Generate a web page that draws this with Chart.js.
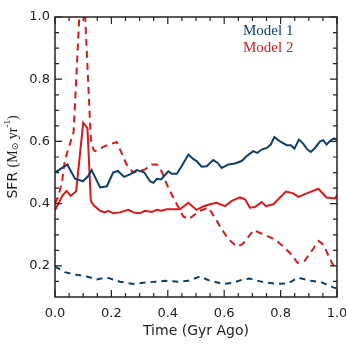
<!DOCTYPE html>
<html>
<head>
<meta charset="utf-8">
<script src="https://cdn.jsdelivr.net/npm/chart.js@4/dist/chart.umd.min.js"></script>
<style>
  html, body { margin: 0; padding: 0; background: #fff; }
  #wrap { width: 346px; height: 346px; }
</style>
</head>
<body>
<div id="wrap"><canvas id="c" width="346" height="346"></canvas></div>
<script>
// values
const xTicks = [0, 0.2, 0.4, 0.6, 0.8, 1.0]
const yTicks = [0.2, 0.4, 0.6, 0.8, 1.0]
const seriesNames = ["Model 1", "Model 2"]

const m1SolidX = [0,0.044,0.053,0.071,0.099,0.117,0.13,0.16,0.184,0.206,0.223,0.245,0.266,0.29,0.316,0.337,0.349,0.361,0.376,0.402,0.414,0.432,0.449,0.473,0.49,0.502,0.52,0.538,0.561,0.577,0.591,0.615,0.638,0.662,0.68,0.703,0.717,0.733,0.751,0.765,0.778,0.798,0.822,0.836,0.849,0.865,0.88,0.893,0.907,0.922,0.94,0.951,0.963,0.978,0.99,1.0]
const m1SolidY = [0.50,0.526,0.51,0.48,0.472,0.488,0.508,0.452,0.456,0.50,0.505,0.486,0.494,0.508,0.501,0.472,0.467,0.48,0.478,0.504,0.496,0.496,0.52,0.558,0.544,0.537,0.519,0.52,0.54,0.531,0.515,0.526,0.529,0.537,0.553,0.569,0.563,0.574,0.579,0.59,0.614,0.60,0.588,0.588,0.577,0.606,0.593,0.576,0.566,0.579,0.60,0.604,0.59,0.604,0.61,0.605]

const m1DashX = [0,0.035,0.071,0.112,0.148,0.183,0.23,0.278,0.313,0.355,0.39,0.437,0.473,0.514,0.55,0.597,0.627,0.662,0.69,0.742,0.79,0.827,0.862,0.908,0.946,0.987,1.0]
const m1DashY = [0.198,0.18,0.172,0.166,0.156,0.163,0.149,0.142,0.146,0.149,0.152,0.149,0.152,0.166,0.152,0.142,0.145,0.155,0.159,0.147,0.142,0.144,0.162,0.152,0.147,0.131,0.127]

const m2SolidX = [0,0.027,0.041,0.056,0.075,0.1,0.115,0.127,0.137,0.16,0.177,0.189,0.207,0.23,0.26,0.278,0.301,0.319,0.343,0.361,0.378,0.396,0.443,0.473,0.502,0.526,0.55,0.573,0.603,0.627,0.656,0.674,0.691,0.709,0.733,0.748,0.774,0.798,0.819,0.845,0.863,0.893,0.934,0.963,0.993,1.0]
const m2SolidY = [0.379,0.427,0.441,0.425,0.44,0.66,0.643,0.409,0.395,0.377,0.372,0.377,0.369,0.372,0.38,0.372,0.369,0.377,0.373,0.38,0.377,0.382,0.382,0.403,0.38,0.391,0.398,0.403,0.392,0.409,0.42,0.414,0.387,0.389,0.405,0.392,0.398,0.42,0.439,0.433,0.422,0.433,0.448,0.42,0.417,0.427]

const m2DashX = [0,0.012,0.025,0.035,0.066,0.097,0.127,0.136,0.142,0.177,0.219,0.254,0.278,0.319,0.343,0.361,0.378,0.402,0.432,0.455,0.473,0.49,0.514,0.544,0.567,0.591,0.615,0.645,0.665,0.705,0.73,0.78,0.81,0.835,0.86,0.885,0.91,0.935,0.952,0.975,0.993,1.0]
const m2DashY = [0.40,0.425,0.47,0.54,0.63,1.2,0.606,0.574,0.569,0.585,0.598,0.526,0.50,0.51,0.526,0.526,0.504,0.451,0.398,0.359,0.35,0.361,0.377,0.387,0.355,0.318,0.286,0.262,0.27,0.315,0.305,0.285,0.262,0.24,0.21,0.216,0.248,0.28,0.268,0.222,0.19,0.184]

const BLUE = "#0e3f6c"
const RED = "#d9191c"
const INK = "#222"

const pts = (xs, ys) => xs.map((x, i) => ({ x, y: ys[i] }))

function line(xs, ys, color, dash) {
  return {
    data: pts(xs, ys),
    borderColor: color,
    borderWidth: 2,
    borderDash: dash,
    pointRadius: 0,
    tension: 0,
    fill: false
  }
}

// frame with inward ticks on all four sides, axis titles and legend text
const frame = {
  id: "frame",
  afterDraw(chart) {
    const { ctx, chartArea: a, scales: { x, y } } = chart
    ctx.save()
    ctx.strokeStyle = INK
    ctx.lineWidth = 1.5
    ctx.strokeRect(a.left, a.top, a.right - a.left, a.bottom - a.top)
    ctx.lineWidth = 1.2
    for (let v = 0; v <= 1.0001; v += 0.05) {
      const px = x.getPixelForValue(v)
      const len = Math.abs(v * 5 - Math.round(v * 5)) < 1e-6 ? 7 : 4
      ctx.beginPath()
      ctx.moveTo(px, a.bottom); ctx.lineTo(px, a.bottom - len)
      ctx.moveTo(px, a.top); ctx.lineTo(px, a.top + len)
      ctx.stroke()
    }
    for (let v = 0.15; v <= 1.0001; v += 0.05) {
      const py = y.getPixelForValue(v)
      const len = Math.abs(v * 5 - Math.round(v * 5)) < 1e-6 ? 7 : 4
      ctx.beginPath()
      ctx.moveTo(a.left, py); ctx.lineTo(a.left + len, py)
      ctx.moveTo(a.right, py); ctx.lineTo(a.right - len, py)
      ctx.stroke()
    }

    // x title
    ctx.fillStyle = INK
    ctx.font = "14px 'DejaVu Sans'"
    ctx.textAlign = "center"
    ctx.textBaseline = "middle"
    ctx.fillText("Time (Gyr Ago)", (a.left + a.right) / 2, 331)

    // y title, rotated, mixed fonts
    ctx.translate(13, (a.top + a.bottom) / 2)
    ctx.rotate(-Math.PI / 2)
    const parts = [
      ["SFR ", "14px 'DejaVu Sans'", 0],
      ["(M", "14px 'Liberation Serif'", 0],
      ["\u2299", "9px 'DejaVu Sans'", 3],
      [" yr", "14px 'Liberation Serif'", 0],
      ["-1", "9px 'Liberation Serif'", -5],
      [")", "14px 'Liberation Serif'", 0]
    ]
    let total = 0
    for (const [t, f] of parts) { ctx.font = f; total += ctx.measureText(t).width }
    let cx = -total / 2
    ctx.textAlign = "left"
    for (const [t, f, dy] of parts) {
      ctx.font = f
      ctx.fillText(t, cx, dy)
      cx += ctx.measureText(t).width
    }
    ctx.restore()

    // legend text
    ctx.save()
    ctx.font = "15px 'Liberation Serif'"
    ctx.textAlign = "left"
    ctx.textBaseline = "middle"
    ctx.fillStyle = BLUE
    ctx.fillText(seriesNames[0], 243, 31)
    ctx.fillStyle = RED
    ctx.fillText(seriesNames[1], 243, 48)
    ctx.restore()
  }
}

new Chart(document.getElementById("c"), {
  type: "line",
  data: {
    datasets: [
      line(m1SolidX, m1SolidY, BLUE, []),
      line(m1DashX, m1DashY, BLUE, [6, 5]),
      line(m2SolidX, m2SolidY, RED, []),
      line(m2DashX, m2DashY, RED, [7, 5])
    ]
  },
  options: {
    responsive: false,
    animation: false,
    layout: { padding: { top: 17, right: 9, left: 0, bottom: 0 } },
    plugins: { legend: { display: false }, tooltip: { enabled: false } },
    scales: {
      x: {
        type: "linear",
        min: 0, max: 1.0,
        grid: { display: false, drawTicks: false },
        border: { display: false },
        afterBuildTicks: s => { s.ticks = xTicks.map(v => ({ value: v })) },
        afterFit: s => { s.height = 49; s.paddingLeft = 0; s.paddingRight = 0 },
        ticks: {
          padding: 9,
          autoSkip: false,
          maxRotation: 0,
          color: INK,
          font: { family: "'DejaVu Sans'", size: 13 },
          callback: v => v.toFixed(1)
        }
      },
      y: {
        type: "linear",
        min: 0.1, max: 1.0,
        grid: { display: false, drawTicks: false },
        border: { display: false },
        afterBuildTicks: s => { s.ticks = yTicks.map(v => ({ value: v })) },
        afterFit: s => { s.width = 55; s.paddingTop = 0; s.paddingBottom = 0 },
        ticks: {
          padding: 5,
          color: INK,
          font: { family: "'DejaVu Sans'", size: 13 },
          callback: v => v.toFixed(1)
        }
      }
    }
  },
  plugins: [frame]
})
</script>
</body>
</html>
